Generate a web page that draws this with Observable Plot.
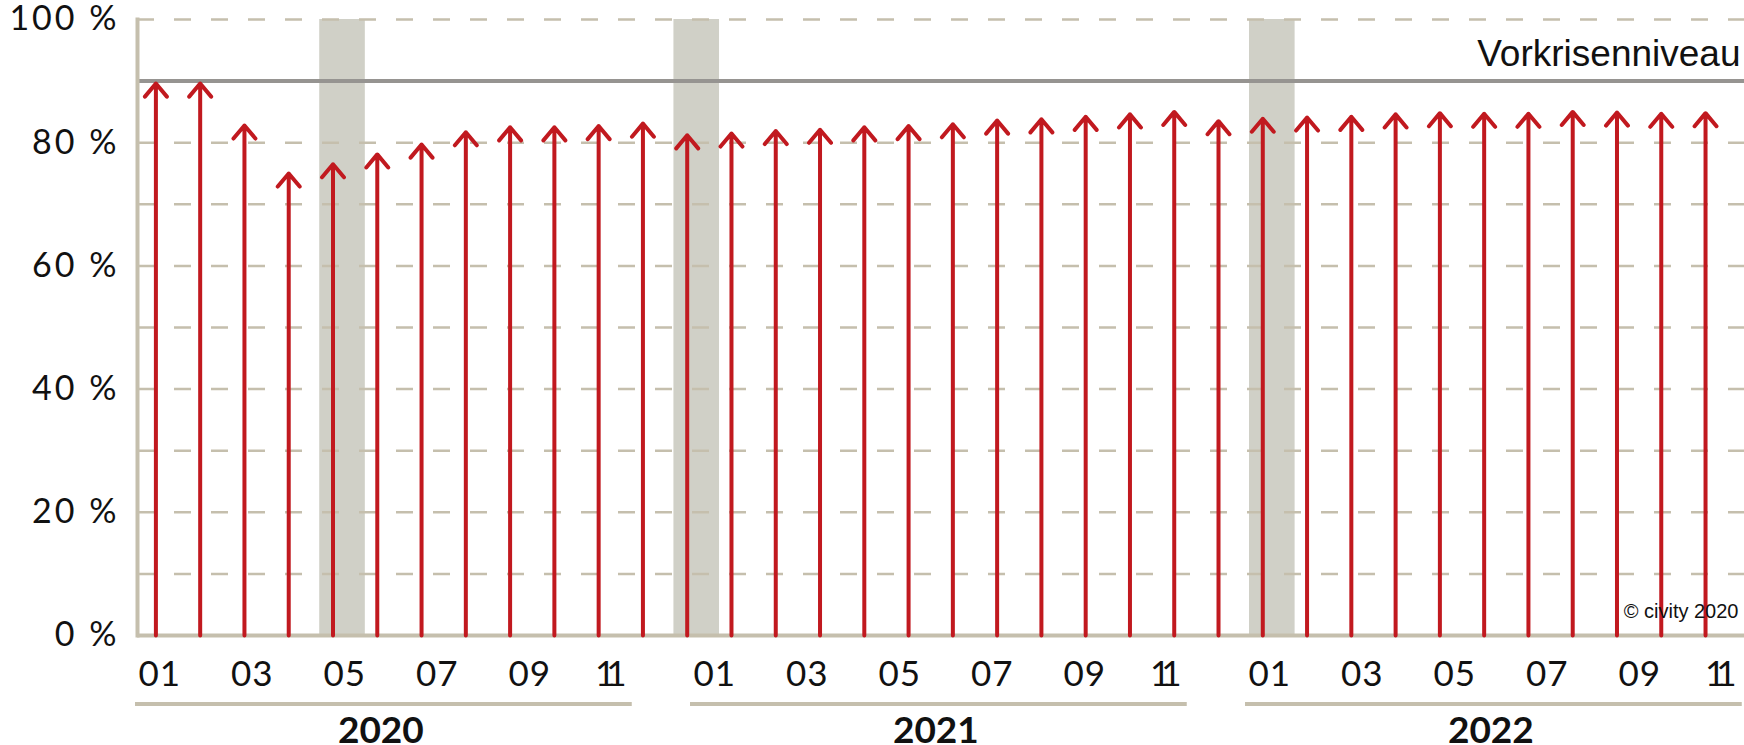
<!DOCTYPE html>
<html><head><meta charset="utf-8">
<script src="https://cdn.jsdelivr.net/npm/d3@7"></script>
<script src="https://cdn.jsdelivr.net/npm/@observablehq/plot@0.6"></script>
<style>
body{margin:0;background:#fff;}
#chart{position:relative;width:1744px;height:745px;overflow:hidden;background:#fff;}
#chart svg{display:block;position:absolute;left:0;}
g[aria-label="y-axis tick label"] text{letter-spacing:3px;}
.mlab text{letter-spacing:1px;}
.mlab11 text{letter-spacing:-9px;}
.ylab text{letter-spacing:0px;}
</style></head><body><div id="chart"></div>
<script>
// ---- data ----
const years = ["2020", "2021", "2022"];
const monthNames = ["01","02","03","04","05","06","07","08","09","10","11","12"];
const tickLabels = ["01", "03", "05", "07", "09", "11"];
const values = [
  89.6, 89.6, 82.8, 75.0, 76.5, 78.1, 79.7, 81.7, 82.5, 82.5, 82.7, 83.1,
  81.2, 81.5, 81.9, 82.1, 82.5, 82.7, 83.0, 83.6, 83.8, 84.2, 84.6, 85.0,
  83.5, 83.9, 84.1, 84.2, 84.6, 84.8, 84.7, 84.7, 85.0, 84.9, 84.7, 84.8
];
const shadedIndex = [4, 12, 25];
const preCrisis = 90;
const preCrisisLabel = "Vorkrisenniveau";
const yTicks = [0, 20, 40, 60, 80, 100];
const gridValues = [10, 20, 30, 40, 50, 60, 70, 80, 90, 100];
const credit = "© civity 2020";

// ---- tables ----
const data = values.map((v, i) => ({i, month: years[Math.floor(i / 12)] + "-" + monthNames[i % 12], value: v}));
const tickData = years.flatMap((y, yi) => tickLabels.map((t, ti) => ({j: yi * 12 + ti * 2, text: t})));
const yearData = years.map((y, yi) => ({year: y, start: yi * 12, end: yi * 12 + 11}));

const beige = "#c5bfad";
const red = "#c1191f";

const main = Plot.plot({
  width: 1744, height: 745,
  marginLeft: 137, marginRight: 0, marginTop: 19, marginBottom: 110,
  x: {type: "linear", domain: [-0.4156, 35.88], axis: null},
  y: {domain: [0, 100], axis: null},
  style: {fontFamily: "Lato", background: "transparent", color: "#111"},
  marks: [
    Plot.rect(shadedIndex, {x1: d => d - 0.3, x2: d => d + 0.73, y1: 0, y2: 100, fill: "#d0d0c7"}),
    Plot.ruleY(gridValues, {stroke: beige, strokeWidth: 2.5, strokeDasharray: "17,20"}),
    Plot.ruleY([preCrisis], {stroke: "#969491", strokeWidth: 4}),
    Plot.ruleY([0], {stroke: beige, strokeWidth: 4}),
    Plot.frame({anchor: "left", stroke: beige, strokeWidth: 4}),
    Plot.arrow(data, {x: "i", y1: 0, y2: "value", stroke: red, strokeWidth: 4, headLength: 6.4, headAngle: 80}),
    Plot.axisY(yTicks, {tickSize: 0, tickPadding: 18, tickFormat: d => d + " %", fontSize: 34, fontWeight: 400, label: null}),
    Plot.text([preCrisis], {y: d => d, text: () => preCrisisLabel, frameAnchor: "right", textAnchor: "end", lineAnchor: "bottom", dx: -4, dy: -15, fontSize: 37, fontFamily: "Liberation Sans", fill: "#111"}),
    Plot.text([credit], {text: d => d, frameAnchor: "bottom-right", textAnchor: "end", lineAnchor: "bottom", dx: -6, dy: -18, fontSize: 20, fontFamily: "Liberation Sans", fill: "#111"})
  ]
});
main.style.top = "0px";

const labels = Plot.plot({
  width: 1744, height: 95,
  marginLeft: 138, marginRight: 33.5, marginTop: 0, marginBottom: 0,
  x: {type: "linear", domain: [0, 34], axis: null},
  style: {fontFamily: "Lato", background: "transparent", color: "#111"},
  marks: [
    Plot.text(tickData.filter(d => d.text !== "11"), {x: "j", text: "text", frameAnchor: "top", lineAnchor: "bottom", textAnchor: "start", dy: 35, fontSize: 35, fontWeight: 400, className: "mlab"}),
    Plot.text(tickData.filter(d => d.text === "11"), {x: "j", text: "text", frameAnchor: "top", lineAnchor: "bottom", textAnchor: "start", dx: -6, dy: 35, fontSize: 35, fontWeight: 400, className: "mlab11"}),
    Plot.barX(yearData, {x1: "start", x2: "end", insetTop: 52, insetBottom: 39, insetLeft: -3, insetRight: 15, fill: beige}),
    Plot.text(yearData, {x: d => (d.start + d.end) / 2, text: "year", frameAnchor: "top", lineAnchor: "bottom", dx: -12, dy: 92, fontSize: 37, fontWeight: "bold", className: "ylab"})
  ]
});
labels.style.top = "650px";

const chart = document.getElementById("chart");
chart.appendChild(main);
chart.appendChild(labels);
</script>
</body></html>
